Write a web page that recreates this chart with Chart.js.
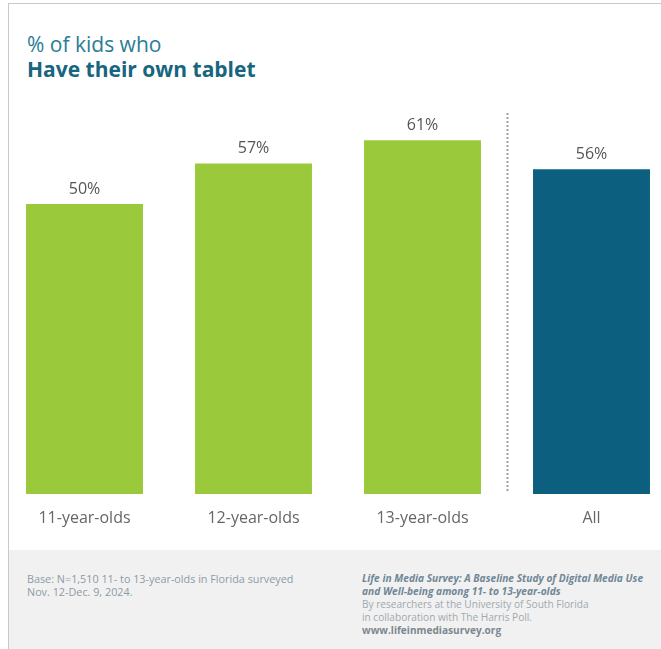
<!DOCTYPE html>
<html>
<head>
<meta charset="utf-8">
<script src="https://cdn.jsdelivr.net/npm/chart.js@4.4.1/dist/chart.umd.min.js"></script>
<style>
  html, body { margin: 0; padding: 0; background: #ffffff; }
  body { width: 661px; height: 649px; overflow: hidden; position: relative; font-family: "Open Sans", "Noto Sans", sans-serif; }
  .frame-top { position: absolute; left: 8px; top: 3px; width: 653px; height: 1px; background: #c9c9c9; }
  .frame-left { position: absolute; left: 8px; top: 3px; width: 1px; height: 646px; background: #c9c9c9; }
  .title { position: absolute; left: 27px; top: 32px; color: #2b7d96; font-size: 21px; line-height: 25px; }
  .title b { color: #17657f; font-weight: 700; display: block; }
  .chart-wrap { position: absolute; left: 0; top: 0; width: 676px; height: 540px; }
  .footer { position: absolute; left: 9px; top: 550px; width: 652px; height: 99px; background: #f1f1f1; }
  .note { position: absolute; left: 18px; top: 22px; width: 300px; font-size: 10.8px; line-height: 13px; color: #8d9ba5; }
  .source { position: absolute; left: 353px; top: 22px; width: 300px; font-size: 10.1px; line-height: 13px; color: #a0a9b0; }
  .source .pub { color: #6f8796; font-weight: 700; font-style: italic; font-size: 10.2px; }
  .source .url { color: #7c8891; font-weight: 700; }
</style>
</head>
<body>
<div class="frame-top"></div>
<div class="frame-left"></div>
<div class="title">% of kids who<b>Have their own tablet</b></div>
<div class="chart-wrap"><canvas id="chart" width="676" height="540"></canvas></div>
<div class="footer">
  <div class="note">Base: N=1,510 11- to 13-year-olds in Florida surveyed<br>Nov. 12-Dec. 9, 2024.</div>
  <div class="source"><span class="pub">Life in Media Survey: A Baseline Study of Digital Media Use<br>and Well-being among 11- to 13-year-olds</span><br>By researchers at the University of South Florida<br>in collaboration with The Harris Poll.<br><span class="url">www.lifeinmediasurvey.org</span></div>
</div>
<script>
// Share of kids who have their own tablet, by age group
const categories = ['11-year-olds', '12-year-olds', '13-year-olds', 'All'];
const shareValues = [50, 57, 61, 56];
const barColors = ['#9bc93c', '#9bc93c', '#9bc93c', '#0d5f80'];

// Value labels above each bar, plus a dotted divider before the "All" bar
const annotate = {
  id: 'annotate',
  afterDatasetsDraw(chart) {
    const { ctx, scales } = chart;
    const meta = chart.getDatasetMeta(0);
    ctx.save();
    ctx.font = '16px "Open Sans", sans-serif';
    ctx.fillStyle = '#555555';
    ctx.textAlign = 'center';
    ctx.textBaseline = 'alphabetic';
    meta.data.forEach((bar, i) => {
      ctx.fillText(shareValues[i] + '%', bar.x, bar.y - 10);
    });
    const xDiv = (scales.x.getPixelForValue(2) + scales.x.getPixelForValue(3)) / 2;
    ctx.strokeStyle = '#a0a0a0';
    ctx.lineWidth = 2;
    ctx.setLineDash([2, 2]);
    ctx.beginPath();
    ctx.moveTo(Math.round(xDiv) + 0.5, 113);
    ctx.lineTo(Math.round(xDiv) + 0.5, 491);
    ctx.stroke();
    ctx.restore();
  }
};

new Chart(document.getElementById('chart'), {
  type: 'bar',
  data: {
    labels: categories,
    datasets: [{
      data: shareValues,
      backgroundColor: barColors,
      borderWidth: 0,
      categoryPercentage: 1,
      barPercentage: 0.692
    }]
  },
  options: {
    responsive: false,
    animation: false,
    layout: { padding: { top: 88, left: 0, right: 0, bottom: 0 } },
    plugins: { legend: { display: false }, tooltip: { enabled: false }, title: { display: false } },
    scales: {
      y: { display: false, min: 0, max: 70 },
      x: {
        grid: { display: false, drawTicks: false },
        border: { display: false },
        ticks: { color: '#666666', font: { family: '"Open Sans", sans-serif', size: 16 }, padding: 15 },
        afterFit(scale) { scale.height = 46; }
      }
    }
  },
  plugins: [annotate]
});
</script>
</body>
</html>
